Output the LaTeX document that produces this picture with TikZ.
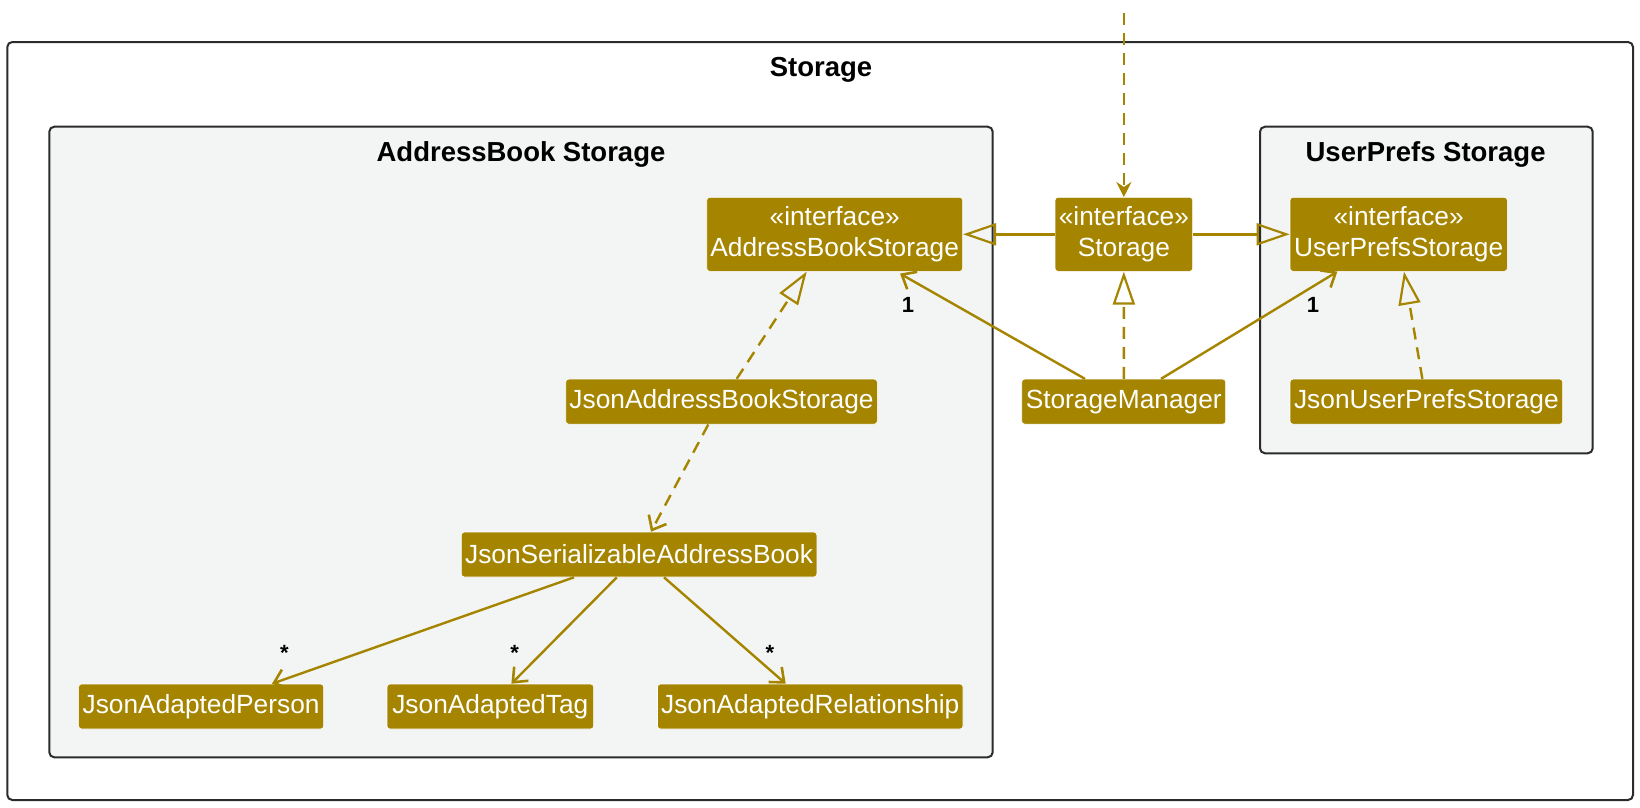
\documentclass[tikz,border=0pt]{standalone}
\usepackage{fontspec}
\setmainfont{Liberation Sans}
\usetikzlibrary{arrows.meta}
\definecolor{umlgold}{HTML}{A58500}
\definecolor{pkgfill}{HTML}{F3F5F4}
\definecolor{pkgline}{HTML}{2B2B2B}

\begin{document}
\begin{tikzpicture}[x=1pt,y=-1pt,
  cls/.style={fill=umlgold, draw=white, line width=0.6pt, rounded corners=3pt,
    text=white, inner sep=0pt, align=center, font=\fontsize{26.3}{31.5}\selectfont},
  iface/.style={cls, minimum height=74pt},
  impl/.style={cls, minimum height=45pt},
  pkg/.style={draw=pkgline, line width=2pt, rounded corners=5pt},
  ptitle/.style={font=\fontsize{27.5}{32}\selectfont\bfseries, inner sep=0pt},
  mult/.style={font=\fontsize{22}{26}\selectfont\bfseries, inner sep=0pt},
  conn/.style={draw=umlgold, line width=2.4pt},
  dep/.style={conn, dash pattern=on 12pt off 8pt},
  gen/.style={-{Triangle[open, length=33pt, width=22pt, line width=2.2pt]}},
  nav/.style={-{Straight Barb[length=12pt, width=20pt, line width=2.6pt]}},
  ext/.style={-{Stealth[length=15pt, width=15pt, inset=5pt]}},
]
% canvas
\fill[white] (0,0) rectangle (1640,807);
\useasboundingbox (0,0) rectangle (1640,807);

% packages
\draw[pkg, fill=white] (7.3,42) rectangle (1633,800);
\draw[pkg, fill=pkgfill] (49.3,126.7) rectangle (992.7,757.3);
\draw[pkg, fill=pkgfill] (1260,126.7) rectangle (1592.7,453.3);

\node[ptitle] (tStorage) at (821,70) {Storage};
\node[ptitle] (tAB) at (521,154.5) {AddressBook Storage};
\node[ptitle] (tUP) at (1425.6,154.5) {UserPrefs Storage};

% classes and interfaces
\node[iface, minimum width=256pt]   (abs)  at (834.7,234.3)  {«interface»\\AddressBookStorage};
\node[iface, minimum width=137.7pt] (st)   at (1123.85,234.3) {«interface»\\Storage};
\node[iface, minimum width=217.3pt] (ups)  at (1398.65,234.3) {«interface»\\UserPrefsStorage};
\node[impl, minimum width=272.7pt]  (jups) at (1426.35,401.65) {JsonUserPrefsStorage};
\node[impl, minimum width=204pt]    (sm)   at (1123.7,401.65) {StorageManager};
\node[impl, minimum width=311.6pt]  (jabs) at (721.5,401.65) {JsonAddressBookStorage};
\node[impl, minimum width=355.4pt]  (jsab) at (639.1,554.5) {JsonSerializableAddressBook};
\node[impl, minimum width=245pt]    (jap)  at (201.1,706.5) {JsonAdaptedPerson};
\node[impl, minimum width=206.6pt]  (jat)  at (490.3,706.5) {JsonAdaptedTag};
\node[impl, minimum width=305.5pt]  (jar)  at (810.25,706.5) {JsonAdaptedRelationship};

% incoming dependency from outside the package
\coordinate (outside) at (1123.85,13);
\draw[dep, ext] (outside) -- (st.north);

% generalisation and realisation
\draw[conn, gen] (st.west) -- (abs.east);
\draw[conn, gen] (st.east) -- (ups.west);
\draw[dep, gen] ([xshift=0.15pt]sm.north) -- (st.south);
\draw[dep, gen] ([xshift=-4pt]jups.north) -- ([xshift=5.3pt]ups.south);
\draw[dep, gen] ([xshift=15.2pt]jabs.north) -- ([xshift=-28pt]abs.south);

% associations
\draw[conn, nav] ([xshift=-38.7pt]sm.north) -- ([xshift=65.3pt, yshift=-2pt]abs.south);
\draw[conn, nav] ([xshift=37.3pt]sm.north) -- ([xshift=-61.3pt]ups.south);
\draw[dep, nav] ([xshift=-13.2pt]jabs.south) -- ([xshift=11.9pt]jsab.north);
\draw[conn, nav] ([xshift=-65.1pt]jsab.south) -- ([xshift=70.9pt]jap.north);
\draw[conn, nav] ([xshift=-22.3pt]jsab.south) -- ([xshift=21.1pt]jat.north);
\draw[conn, nav] ([xshift=24.9pt]jsab.south) -- ([xshift=-24.55pt]jar.north);

% multiplicities
\node[mult] (mAB) at (907.9,305) {1};
\node[mult] (mUP) at (1313,305) {1};
\node[mult] (mP)  at (284.5,653) {*};
\node[mult] (mT)  at (514.6,653) {*};
\node[mult] (mR)  at (769.8,653) {*};
\end{tikzpicture}
\end{document}
